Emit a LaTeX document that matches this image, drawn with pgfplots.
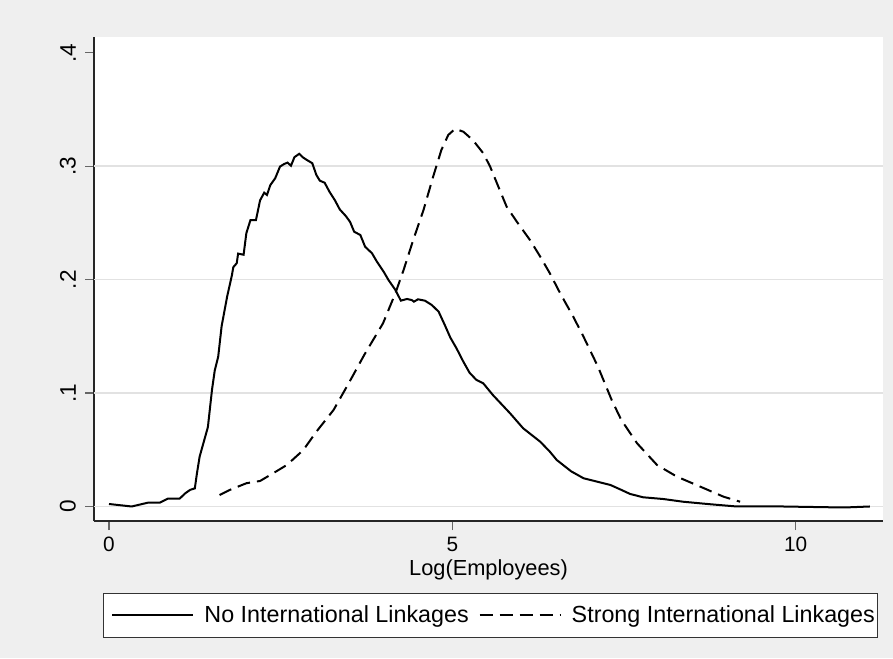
\documentclass[border=0pt]{standalone}
\usepackage{pgfplots}
\pgfplotsset{compat=1.18}
\usepackage{fontspec}
\setmainfont{Liberation Sans}
\definecolor{bgc}{RGB}{239,239,239}
\definecolor{gridc}{RGB}{226,226,226}
\begin{document}
\begin{tikzpicture}
\fill[bgc] (0,0) rectangle (446.5pt,329pt);
\begin{axis}[
  at={(47pt,68.5pt)}, anchor=south west,
  scale only axis, width=394.5pt, height=242pt,
  xmin=-0.2184, xmax=11.271, ymin=-0.0128, ymax=0.414,
  axis background/.style={fill=white},
  axis x line*=bottom, axis y line*=left,
  axis line style={-, black!85, line width=0.6pt},
  tick align=outside, major tick length=4.5pt,
  tick style={black!60, line width=0.6pt},
  xtick={0,5,10}, ytick={0,0.1,0.2,0.3,0.4},
  yticklabels={0,.1,.2,.3,.4},
  minor tick num=0,
  /pgf/number format/assume math mode=true,
  xticklabel style={font=\fontsize{10.4}{12}\selectfont},
  yticklabel style={font=\fontsize{11.3}{13}\selectfont, rotate=90, anchor=south, yshift=1pt},
  extra y ticks={0,0.1,0.2,0.3},
  extra y tick labels={},
  extra y tick style={grid=major, major tick length=0pt, major grid style={gridc, line width=0.8pt}},
  xlabel={Log(Employees)},
  xlabel style={font=\fontsize{10.9}{12}\selectfont, yshift=3pt},
  legend style={at={(0.0114,-0.148)}, anchor=north west, draw=black!80, line width=0.5pt,
    fill=white, font=\fontsize{11.65}{13}\selectfont, legend columns=2,
    inner xsep=1.5pt, inner ysep=4.5pt,
    nodes={inner xsep=0pt, inner ysep=1.5pt},
    /tikz/every even column/.append style={column sep=2.5pt}},
  legend cell align=left,
  legend image code/.code={\path[draw=none,fill=none] (0pt,0pt) -- (49pt,0pt); \draw[#1] (3pt,0pt) -- (43.5pt,0pt);},
]
\addplot[black, line width=1pt] coordinates {
(0,0.0022) (0.33,0.0) (0.57,0.0034) (0.74,0.0034) (0.86,0.007) (1.03,0.007)
(1.11,0.0116) (1.18,0.0146) (1.25,0.016) (1.28,0.029) (1.32,0.044) (1.44,0.070)
(1.50,0.103) (1.54,0.120) (1.59,0.132) (1.64,0.159) (1.72,0.185) (1.79,0.204)
(1.81,0.211) (1.86,0.2145) (1.88,0.223) (1.96,0.222) (2.00,0.241) (2.06,0.2526)
(2.14,0.2526) (2.20,0.270) (2.26,0.2767) (2.30,0.2747) (2.35,0.2835) (2.42,0.2894)
(2.49,0.2997) (2.55,0.302) (2.60,0.3032) (2.65,0.3005) (2.70,0.308) (2.77,0.311)
(2.82,0.308) (2.88,0.3056) (2.96,0.3027) (3.02,0.2923) (3.07,0.2873) (3.14,0.2855)
(3.21,0.2776) (3.29,0.270) (3.36,0.262) (3.45,0.256) (3.51,0.251) (3.57,0.2423)
(3.66,0.2394) (3.73,0.229) (3.83,0.2233) (3.90,0.216) (4.00,0.207) (4.07,0.1997)
(4.17,0.191) (4.25,0.1815) (4.34,0.183) (4.41,0.182) (4.44,0.1806) (4.50,0.1827)
(4.60,0.1815) (4.70,0.1777) (4.80,0.1718) (4.89,0.160) (4.97,0.149) (5.06,0.1395)
(5.16,0.1277) (5.25,0.118) (5.35,0.1116) (5.45,0.1086) (5.59,0.0983) (5.84,0.0822)
(6.03,0.069) (6.28,0.0571) (6.42,0.0483) (6.52,0.041) (6.73,0.031) (6.91,0.0249)
(7.05,0.0228) (7.30,0.019) (7.44,0.0152) (7.59,0.011) (7.78,0.0081) (8.07,0.0066)
(8.36,0.0042) (8.75,0.002) (9.14,0.0) (9.81,0.0) (10.5,-0.0007) (10.79,-0.0007) (11.08,0.0)
};
\addlegendentry{No International Linkages}
\addplot[black, line width=1pt, dash pattern=on 6.5pt off 3.5pt] coordinates {
(1.61,0.0101) (1.76,0.0146) (2.00,0.0205) (2.20,0.0225) (2.39,0.0293) (2.59,0.0366)
(2.83,0.0498) (3.02,0.066) (3.27,0.0851) (3.49,0.1086) (3.72,0.134) (3.99,0.1615)
(4.17,0.188) (4.29,0.2086) (4.43,0.235) (4.58,0.2615) (4.72,0.2908) (4.84,0.3144)
(4.94,0.3276) (5.04,0.333) (5.16,0.3305) (5.30,0.323) (5.45,0.3115) (5.55,0.2997)
(5.67,0.282) (5.79,0.2644) (5.94,0.251) (6.13,0.235) (6.28,0.2203) (6.42,0.2056)
(6.57,0.188) (6.76,0.1674) (6.91,0.1497) (7.12,0.1233) (7.32,0.0939) (7.46,0.0763)
(7.69,0.0557) (7.98,0.0366) (8.27,0.0263) (8.61,0.0175) (8.95,0.0086) (9.19,0.0042)
};
\addlegendentry{Strong International Linkages}
\end{axis}
\end{tikzpicture}
\end{document}
